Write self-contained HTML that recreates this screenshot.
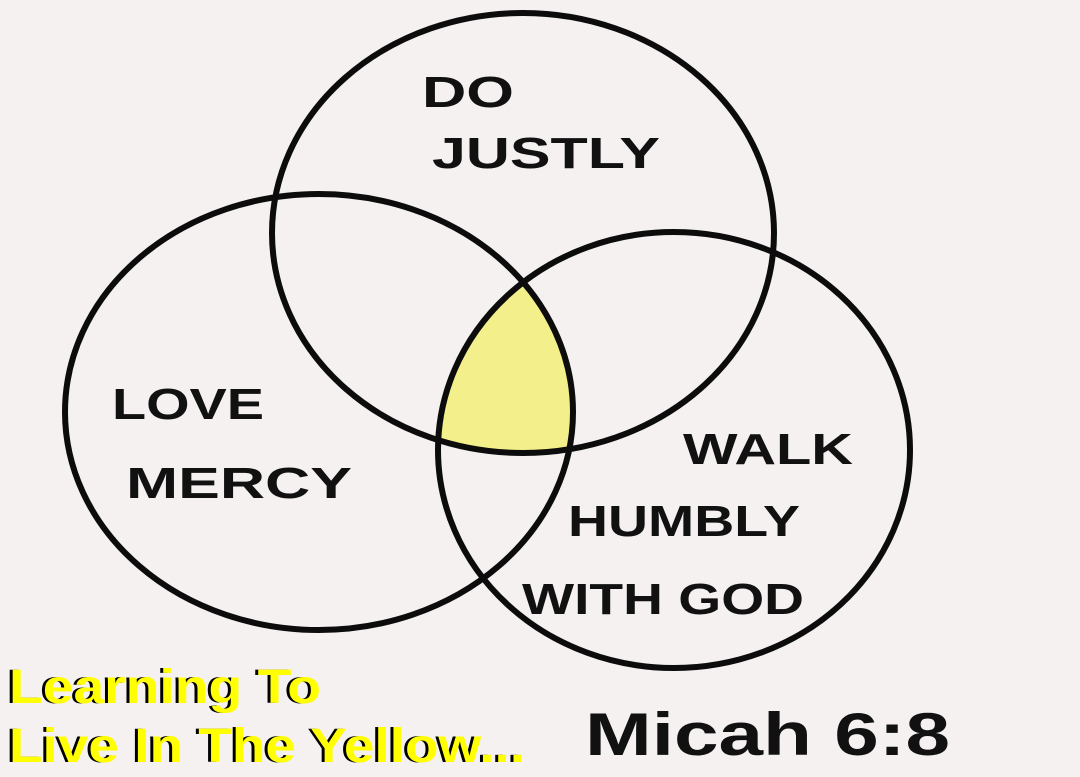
<!DOCTYPE html>
<html><head><meta charset="utf-8"><style>
html,body{margin:0;padding:0;background:#f4f1f0;}
svg{display:block}
.h{font-family:"Liberation Sans",sans-serif;font-weight:bold;fill:#111;}
.y{font-family:"Liberation Sans",sans-serif;font-weight:bold;font-size:48px;}
</style></head><body>
<svg width="1080" height="777" viewBox="0 0 1080 777" xmlns="http://www.w3.org/2000/svg">
<rect width="1080" height="777" fill="#f4f1f0"/>
<defs>
<clipPath id="cT"><ellipse cx="523" cy="233" rx="251" ry="220"/></clipPath>
<clipPath id="cL"><ellipse cx="319" cy="412" rx="254" ry="218"/></clipPath>
</defs>
<g clip-path="url(#cT)"><g clip-path="url(#cL)">
<ellipse cx="674" cy="450" rx="236" ry="218" fill="#f3ef8a"/>
</g></g>
<g fill="none" stroke="#0c0c0c" stroke-width="6">
<ellipse cx="523" cy="233" rx="251" ry="220"/>
<ellipse cx="319" cy="412" rx="254" ry="218"/>
<ellipse cx="674" cy="450" rx="236" ry="218"/>
</g>
<g class="h" font-size="44">
<text x="422" y="107" textLength="92" lengthAdjust="spacingAndGlyphs">DO</text>
<text x="432" y="168" textLength="228" lengthAdjust="spacingAndGlyphs">JUSTLY</text>
<text x="112" y="419" textLength="152" lengthAdjust="spacingAndGlyphs">LOVE</text>
<text x="126" y="498" textLength="226" lengthAdjust="spacingAndGlyphs">MERCY</text>
<text x="683" y="464" textLength="170" lengthAdjust="spacingAndGlyphs">WALK</text>
<text x="568" y="536" textLength="232" lengthAdjust="spacingAndGlyphs">HUMBLY</text>
<text x="522" y="614" textLength="282" lengthAdjust="spacingAndGlyphs">WITH GOD</text>
<text x="585" y="755" font-size="60" textLength="365" lengthAdjust="spacingAndGlyphs">Micah 6:8</text>
</g>
<g class="y">
<text x="6" y="703" fill="#000" textLength="312" lengthAdjust="spacingAndGlyphs">Learning To</text>
<text x="9" y="703" fill="#ffff00" textLength="312" lengthAdjust="spacingAndGlyphs">Learning To</text>
<text x="6" y="762" fill="#000" textLength="516" lengthAdjust="spacingAndGlyphs">Live In The Yellow...</text>
<text x="9" y="762" fill="#ffff00" textLength="516" lengthAdjust="spacingAndGlyphs">Live In The Yellow...</text>
</g>
</svg>
</body></html>
